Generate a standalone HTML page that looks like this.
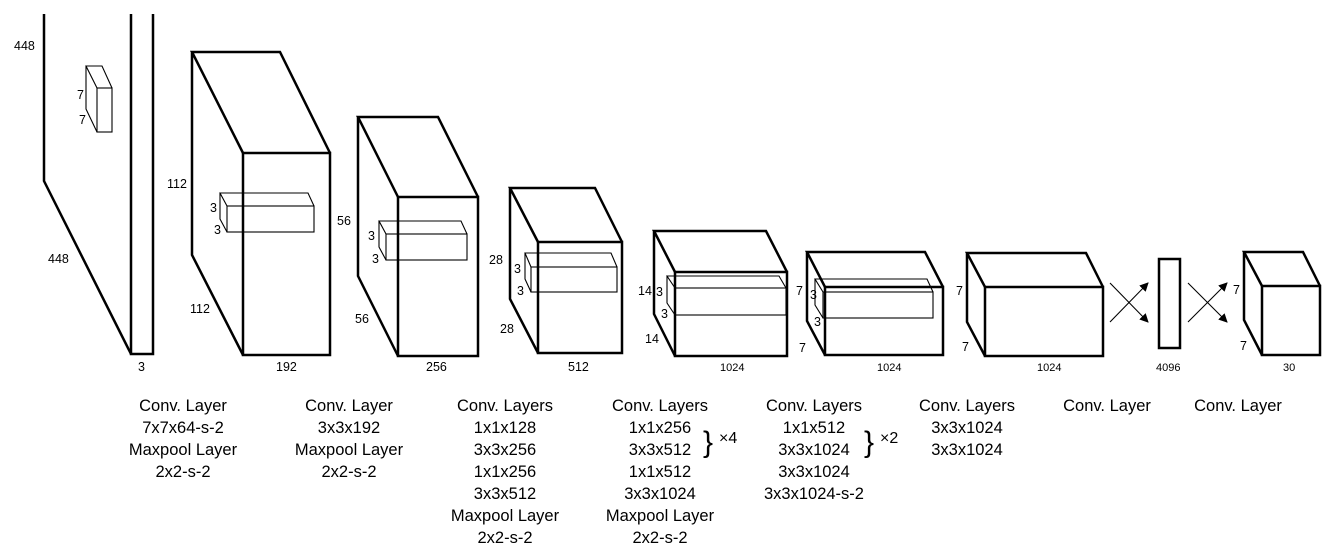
<!DOCTYPE html>
<html><head><meta charset="utf-8"><style>
html,body{margin:0;padding:0;background:#fff;}
svg{display:block}
text{font-family:"Liberation Sans",sans-serif;fill:#000}
.n{font-size:12.5px}
.l{font-size:16.5px;text-anchor:middle}
</style></head><body>
<svg width="1328" height="554" viewBox="0 0 1328 554" xmlns="http://www.w3.org/2000/svg">
<defs><marker id="a" markerWidth="9" markerHeight="9" refX="8" refY="4.5" orient="auto" markerUnits="userSpaceOnUse"><path d="M0,0 L9,4.5 L0,9 Z" fill="#000"/></marker></defs>
<g fill="none" stroke="#000" stroke-width="2.5" stroke-linejoin="miter">
<path d="M44,14 V181 L131,354"/><path d="M131,14 V354 H153 V14"/>
<path d="M243,153 L192,52 H280 L330,153 M192,52 V255 L243,355"/><rect x="243" y="153" width="87" height="202"/>
<path d="M398,197 L358,117 H438 L478,197 M358,117 V276 L398,356"/><rect x="398" y="197" width="80" height="159"/>
<path d="M538,242 L510,188 H595 L622,242 M510,188 V299 L538,353"/><rect x="538" y="242" width="84" height="111"/>
<path d="M675,272 L654,231 H766 L787,272 M654,231 V314 L675,356"/><rect x="675" y="272" width="112" height="84"/>
<path d="M825,287 L807,252 H925 L943,287 M807,252 V321 L825,355"/><rect x="825" y="287" width="118" height="68"/>
<path d="M985,287 L967,253 H1086 L1103,287 M967,253 V322 L985,356"/><rect x="985" y="287" width="118" height="69"/>
<rect x="1159" y="259" width="21" height="89"/>
<path d="M1262,286 L1244,252 H1303 L1320,286 M1244,252 V320 L1262,355"/><rect x="1262" y="286" width="58" height="69"/>
</g>
<g fill="none" stroke="#000" stroke-width="1.1">
<path d="M97,88 L86,66 H102 L112,88 M86,66 V109 L97,132"/><rect x="97" y="88" width="15" height="44"/>
<path d="M227,206 L220,193 H308 L314,206 M220,193 V219 L227,232"/><rect x="227" y="206" width="87" height="26"/>
<path d="M386,234 L379,221 H461 L467,234 M379,221 V247 L386,260"/><rect x="386" y="234" width="81" height="26"/>
<path d="M531,267 L525,253 H611 L617,267 M525,253 V279 L531,292"/><rect x="531" y="267" width="86" height="25"/>
<path d="M675,288 L667,276 H779 L786,288 M667,276 V303 L675,315"/><rect x="675" y="288" width="111" height="27"/>
<path d="M823,292 L815,279 H927 L933,292 M815,279 V305 L823,318"/><rect x="823" y="292" width="110" height="26"/>
<line x1="1110" y1="283" x2="1148" y2="322" marker-end="url(#a)"/>
<line x1="1110" y1="322" x2="1148" y2="283" marker-end="url(#a)"/>
<line x1="1188" y1="283" x2="1227" y2="322" marker-end="url(#a)"/>
<line x1="1188" y1="322" x2="1227" y2="283" marker-end="url(#a)"/>
</g>
<g class="n">
<text x="14" y="50">448</text><text x="77" y="99">7</text><text x="79" y="124">7</text><text x="48" y="263">448</text><text x="138" y="371">3</text>
<text x="167" y="188">112</text><text x="190" y="313">112</text><text x="210" y="212">3</text><text x="214" y="234">3</text><text x="276" y="371">192</text>
<text x="337" y="225">56</text><text x="355" y="323">56</text><text x="368" y="240">3</text><text x="372" y="263">3</text><text x="426" y="371">256</text>
<text x="489" y="264">28</text><text x="500" y="333">28</text><text x="514" y="273">3</text><text x="517" y="295">3</text><text x="568" y="371">512</text>
<text x="638" y="295">14</text><text x="645" y="343">14</text><text x="656" y="296">3</text><text x="661" y="318">3</text><text x="720" y="371" font-size="11">1024</text>
<text x="796" y="295">7</text><text x="799" y="352">7</text><text x="810" y="299">3</text><text x="814" y="326">3</text><text x="877" y="371" font-size="11">1024</text>
<text x="956" y="295">7</text><text x="962" y="351">7</text><text x="1037" y="371" font-size="11">1024</text>
<text x="1156" y="371" font-size="11">4096</text>
<text x="1233" y="294">7</text><text x="1240" y="350">7</text><text x="1283" y="371" font-size="11">30</text>
</g>
<g class="l">
<text x="183" y="411">Conv. Layer</text><text x="183" y="433">7x7x64-s-2</text><text x="183" y="455">Maxpool Layer</text><text x="183" y="477">2x2-s-2</text>
<text x="349" y="411">Conv. Layer</text><text x="349" y="433">3x3x192</text><text x="349" y="455">Maxpool Layer</text><text x="349" y="477">2x2-s-2</text>
<text x="505" y="411">Conv. Layers</text><text x="505" y="433">1x1x128</text><text x="505" y="455">3x3x256</text><text x="505" y="477">1x1x256</text><text x="505" y="499">3x3x512</text><text x="505" y="521">Maxpool Layer</text><text x="505" y="543">2x2-s-2</text>
<text x="660" y="411">Conv. Layers</text><text x="660" y="433">1x1x256</text><text x="660" y="455">3x3x512</text><text x="660" y="477">1x1x512</text><text x="660" y="499">3x3x1024</text><text x="660" y="521">Maxpool Layer</text><text x="660" y="543">2x2-s-2</text>
<text x="814" y="411">Conv. Layers</text><text x="814" y="433">1x1x512</text><text x="814" y="455">3x3x1024</text><text x="814" y="477">3x3x1024</text><text x="814" y="499">3x3x1024-s-2</text>
<text x="967" y="411">Conv. Layers</text><text x="967" y="433">3x3x1024</text><text x="967" y="455">3x3x1024</text>
<text x="1107" y="411">Conv. Layer</text><text x="1238" y="411">Conv. Layer</text>
</g>
<g font-size="30"><text x="703" y="452">}</text><text x="864" y="452">}</text></g>
<g font-size="16"><text x="719" y="443">×4</text><text x="880" y="443">×2</text></g>
</svg>
</body></html>
